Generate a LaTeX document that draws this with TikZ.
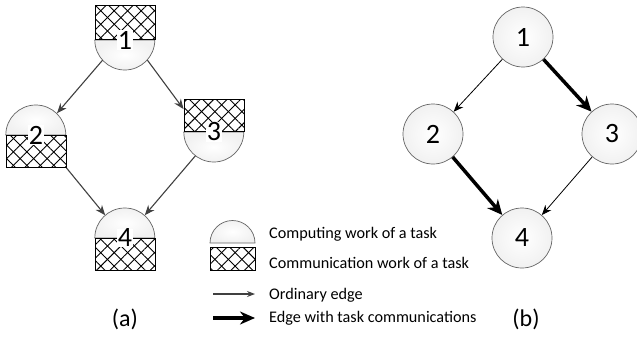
\documentclass[tikz,border=0pt]{standalone}
\usepackage{fontspec}
\setmainfont{Carlito}
\usetikzlibrary{shapes,arrows.meta,positioning,calc,patterns.meta}
\definecolor{edgegrey}{RGB}{64,64,64}
\definecolor{rimgrey}{RGB}{100,100,100}

\tikzset{
  slot/.style={circle,minimum size=60pt,inner sep=0pt},
  task/.style={slot,draw=rimgrey,line width=0.7pt,inner color=white,outer color=gray!11,
               font=\fontsize{28}{28}\selectfont},
  tasknum/.style={font=\fontsize{28}{28}\selectfont,fill=white,inner sep=0.5pt},
  compcap/.style={draw=rimgrey,line width=0.7pt,inner color=white,outer color=gray!11},
  commbox/.style={draw=black,line width=0.9pt,fill=white,minimum width=60pt,minimum height=32pt,inner sep=0pt,
                  postaction={pattern={Lines[angle=45,distance=9.5pt,line width=0.9pt]}},
                  postaction={pattern={Lines[angle=-45,distance=9.5pt,line width=0.9pt]}},
                  postaction={draw=black,line width=0.9pt}},
  plain/.style={draw=edgegrey,line width=1.1pt,-{Stealth[length=10pt,width=8pt]}},
  bplain/.style={draw=black,line width=0.8pt,-{Stealth[length=10pt,width=8pt]}},
  heavy/.style={draw=black,line width=3.5pt,-{Stealth[length=15pt,width=14pt]}},
  legendtext/.style={font=\fontsize{16.2}{16.2}\selectfont,anchor=west,inner sep=0pt},
  caption/.style={font=\fontsize{24}{24}\selectfont}
}

\begin{document}
\begin{tikzpicture}[x=1pt,y=-1pt]
  \useasboundingbox (0,0) rectangle (637,340);

  % (a) computing part + communication part of every task
  \node[slot] (a1) at (125,40) {};
  \node[slot] (a2) at (36,135) {};
  \node[slot] (a3) at (214,132) {};
  \node[slot] (a4) at (125,238) {};

  \path[compcap] (a1.west) arc[start angle=180,end angle=360,radius=30pt] -- cycle;
  \path[compcap] (a2.west) arc[start angle=180,end angle=0,radius=30pt] -- cycle;
  \path[compcap] (a3.west) arc[start angle=180,end angle=360,radius=30pt] -- cycle;
  \path[compcap] (a4.west) arc[start angle=180,end angle=0,radius=30pt] -- cycle;

  \node[commbox,minimum height=34pt,anchor=south] (a1c) at (a1.center) {};
  \node[commbox,anchor=north] (a2c) at (a2.center) {};
  \node[commbox,anchor=south] (a3c) at (a3.center) {};
  \node[commbox,anchor=north] (a4c) at (a4.center) {};

  \node[tasknum] at (a1) {1};
  \node[tasknum] at (a2) {2};
  \node[tasknum] at (a3) {3};
  \node[tasknum] at (a4) {4};

  \draw[plain] (a1.222) -- (a2.46);
  \draw[plain] (a1.318) -- (a3c.168);
  \draw[plain] (a2c.south east) -- (a4.131);
  \draw[plain] (a3.232) -- (a4.49);

  \node[caption] (capa) at (125,319) {(a)};

  % (b) plain task graph
  \node[task] (b1) at (523,37) {1};
  \node[task] (b2) at (433,134) {2};
  \node[task] (b3) at (612,134) {3};
  \node[task] (b4) at (522,238) {4};

  \draw[bplain] (b1) -- (b2);
  \draw[heavy] (b1) -- (b3);
  \draw[heavy] (b2) -- (b4);
  \draw[bplain] (b3) -- (b4);

  \node[caption] (capb) at (526,319) {(b)};

  % legend
  \coordinate (k1) at (232.5,243);
  \path[compcap] ($(k1)+(-22.5,0)$) arc[start angle=180,end angle=0,radius=22.5pt] -- cycle;
  \node[commbox,minimum width=45pt,minimum height=23pt] (k2) at (232.5,258.5) {};
  \coordinate (k3s) at (213,294);
  \coordinate (k3e) at (255,294);
  \draw[plain,-{Stealth[length=8pt,width=6pt]}] (k3s) -- (k3e);
  \coordinate (k4s) at (213,318);
  \coordinate (k4e) at (255,318);
  \draw[heavy,-{Stealth[length=15pt,width=13pt]}] (k4s) -- (k4e);

  \node[legendtext] (t1) at (269,234) {Computing work of a task};
  \node[legendtext] (t2) at (269,263) {Communication work of a task};
  \node[legendtext] (t3) at (269,295) {Ordinary edge};
  \node[legendtext] (t4) at (269,318) {Edge with task communications};
\end{tikzpicture}
\end{document}
